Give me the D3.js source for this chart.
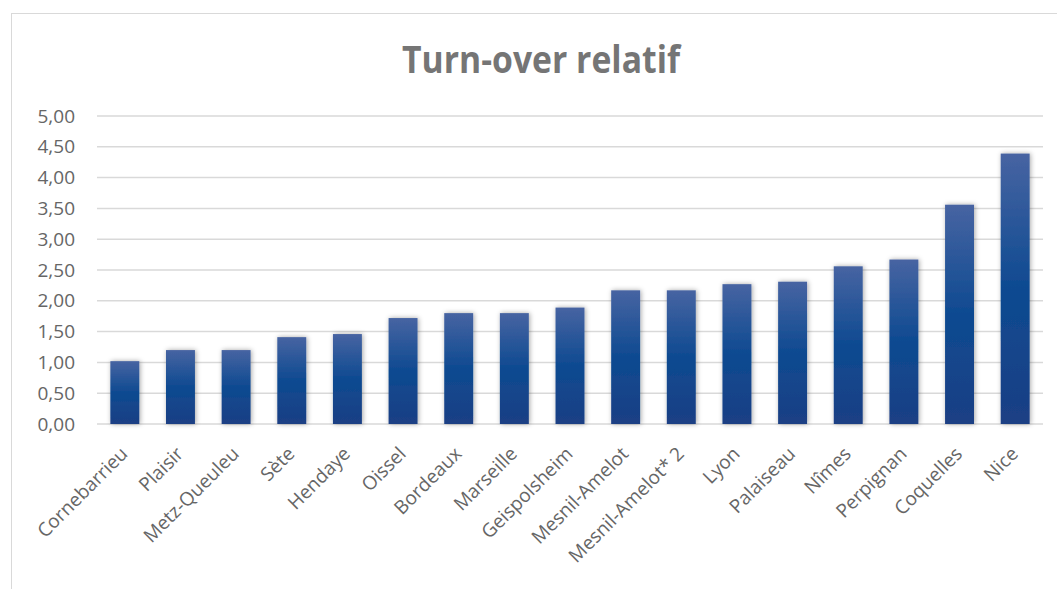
<!DOCTYPE html>
<html>
<head>
<meta charset="utf-8">
<script src="https://cdn.jsdelivr.net/npm/d3@7"></script>
<style>
  body { margin: 0; background: #fff; }
  svg { display: block; }
</style>
</head>
<body>
<div id="chart"></div>
<script>
var sites = ["Cornebarrieu", "Plaisir", "Metz-Queuleu", "Sète", "Hendaye", "Oissel", "Bordeaux",
  "Marseille", "Geispolsheim", "Mesnil-Amelot", "Mesnil-Amelot* 2", "Lyon", "Palaiseau",
  "Nîmes", "Perpignan", "Coquelles", "Nice"];
var turnover = [1.02, 1.20, 1.20, 1.41, 1.46, 1.72, 1.80, 1.80, 1.89, 2.17, 2.17, 2.27, 2.31,
  2.56, 2.67, 3.56, 4.39];
var yTicks = [0, 0.5, 1, 1.5, 2, 2.5, 3, 3.5, 4, 4.5, 5];

var width = 1057, height = 589;
var margin = {top: 116, right: 14, bottom: 165, left: 97};

var svg = d3.select("#chart").append("svg")
  .attr("width", width)
  .attr("height", height);

var defs = svg.append("defs");
var grad = defs.append("linearGradient")
  .attr("id", "barGrad")
  .attr("x1", 0).attr("y1", 0).attr("x2", 0).attr("y2", 1);
grad.append("stop").attr("offset", "0%").attr("stop-color", "#4764a2");
grad.append("stop").attr("offset", "50%").attr("stop-color", "#0e4a91");
grad.append("stop").attr("offset", "100%").attr("stop-color", "#1b3f84");

var shadow = defs.append("filter").attr("id", "shadow")
  .attr("x", "-40%").attr("y", "-10%").attr("width", "180%").attr("height", "120%");
shadow.append("feDropShadow")
  .attr("dx", 1).attr("dy", 0).attr("stdDeviation", 2.5)
  .attr("flood-color", "#000").attr("flood-opacity", 0.35);

// chart frame
svg.append("rect")
  .attr("x", 11.5).attr("y", 13.5)
  .attr("width", 1200).attr("height", 800)
  .attr("fill", "none")
  .attr("stroke", "#d9d9d9");

var x = d3.scaleBand()
  .domain(sites)
  .range([margin.left, width - margin.right])
  .paddingInner(0.48)
  .paddingOuter(0.24);

var y = d3.scaleLinear()
  .domain([0, 5])
  .range([height - margin.bottom, margin.top]);

// gridlines
svg.append("g")
  .selectAll("line")
  .data(yTicks)
  .enter().append("line")
  .attr("x1", margin.left)
  .attr("x2", width - margin.right)
  .attr("y1", function(d) { return y(d); })
  .attr("y2", function(d) { return y(d); })
  .attr("stroke", "#d9d9d9")
  .attr("stroke-width", 1.5);

// y axis labels
var yAxis = d3.axisLeft(y)
  .tickValues(yTicks)
  .tickSize(0)
  .tickPadding(22)
  .tickFormat(function(d) { return d3.format(".2f")(d).replace(".", ","); });

svg.append("g")
  .attr("transform", "translate(" + margin.left + ",0)")
  .call(yAxis)
  .call(function(g) { g.select(".domain").remove(); })
  .selectAll("text")
  .attr("fill", "#666")
  .style("font-family", "'Open Sans', sans-serif")
  .style("font-size", "19px");

// bars
svg.append("g")
  .selectAll("rect")
  .data(turnover)
  .enter().append("rect")
  .attr("x", function(d, i) { return x(sites[i]); })
  .attr("y", function(d) { return y(d); })
  .attr("width", x.bandwidth())
  .attr("height", function(d) { return y(0) - y(d); })
  .attr("fill", "url(#barGrad)")
  .attr("filter", "url(#shadow)");

// x axis labels, rotated
var xAxis = d3.axisBottom(x).tickSize(0).tickPadding(0);
svg.append("g")
  .attr("transform", "translate(0," + y(0) + ")")
  .call(xAxis)
  .call(function(g) { g.select(".domain").remove(); })
  .selectAll("text")
  .attr("fill", "#666")
  .style("font-family", "'Open Sans', sans-serif")
  .style("font-size", "19px")
  .attr("text-anchor", "end")
  .attr("y", 0)
  .attr("dy", 0)
  .attr("transform", "translate(4,31) rotate(-45)");

// title
svg.append("text")
  .attr("x", 541)
  .attr("y", 73)
  .attr("text-anchor", "middle")
  .attr("fill", "#757575")
  .attr("textLength", 278)
  .attr("lengthAdjust", "spacingAndGlyphs")
  .style("font-family", "'Open Sans', sans-serif")
  .style("font-weight", "bold")
  .style("font-size", "37px")
  .text("Turn-over relatif");
</script>
</body>
</html>
